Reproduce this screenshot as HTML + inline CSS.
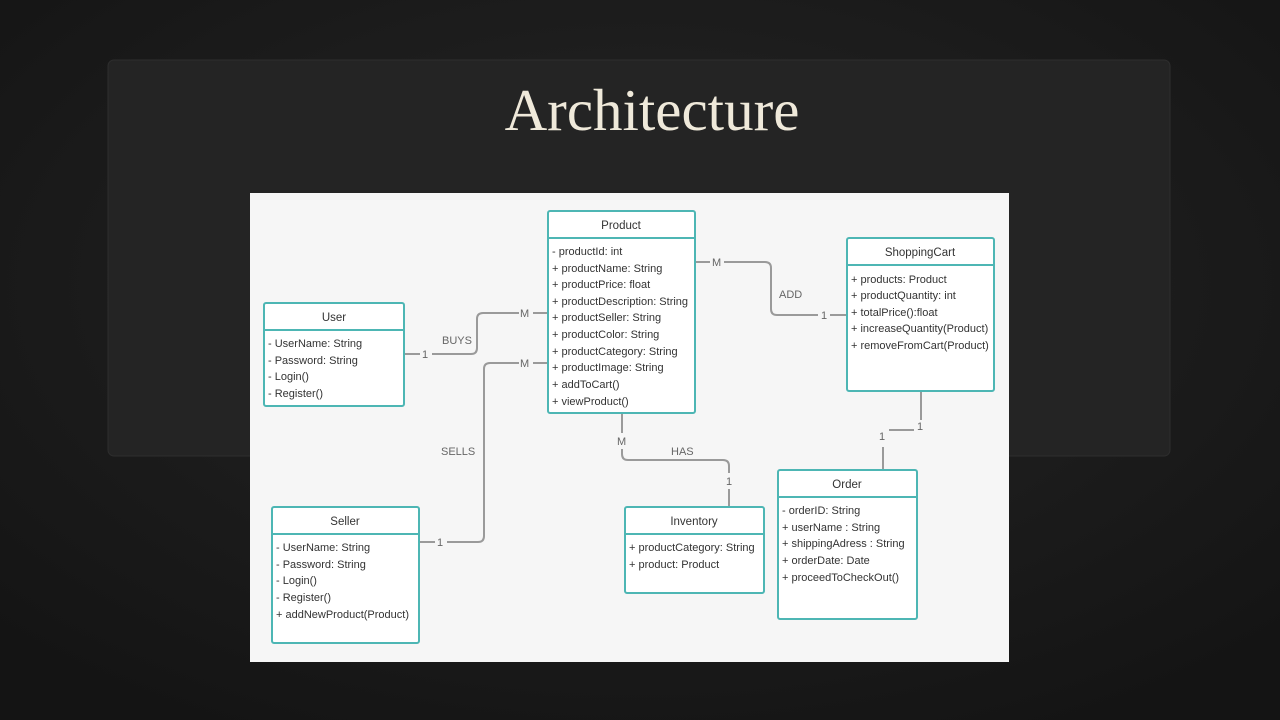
<!DOCTYPE html>
<html><head><meta charset="utf-8"><style>
html,body{margin:0;padding:0;width:1280px;height:720px;overflow:hidden;background:#1b1b1b}
svg{display:block}
.t{font-family:"Liberation Sans",sans-serif;font-size:11px;fill:#333}
.l{font-family:"Liberation Sans",sans-serif;font-size:11px;fill:#666}
.h{font-family:"Liberation Sans",sans-serif;font-size:11.5px;fill:#333;text-anchor:middle}
.b{fill:#fff;stroke:#4db6b4;stroke-width:2}
.c{fill:none;stroke:#9a9a9a;stroke-width:2}
</style></head><body>
<svg width="1280" height="720" viewBox="0 0 1280 720">
<defs><radialGradient id="bg" cx="50%" cy="40%" r="70%"><stop offset="0" stop-color="#262626"/><stop offset="1" stop-color="#141414"/></radialGradient></defs>
<rect width="1280" height="720" fill="url(#bg)"/>
<rect x="108" y="60" width="1062" height="396" rx="6" fill="#242424" stroke="#2e2e2e"/>
<text x="652" y="130" text-anchor="middle" font-family="Liberation Serif,serif" font-size="59" fill="#efe9da">Architecture</text>
<rect x="250" y="193" width="759" height="469" fill="#f6f6f6"/>

<!-- connectors -->
<path class="c" d="M404 354H420M432 354H471Q477 354 477 348V319Q477 313 483 313H519M533 313H548"/>
<path class="c" d="M419 542H435M447 542H478Q484 542 484 536V369Q484 363 490 363H519M533 363H548"/>
<path class="c" d="M695 262H710M724 262H765Q771 262 771 268V309Q771 315 777 315H818M830 315H847"/>
<path class="c" d="M622 413V433M622 449V454Q622 460 628 460H723Q729 460 729 466V473M729 489V507"/>
<path class="c" d="M921 391V420M914 430H889M883 447V470"/>
<text class="l" x="442" y="344">BUYS</text>
<text class="l" x="422" y="358">1</text>
<text class="l" x="520" y="317">M</text>
<text class="l" x="520" y="367">M</text>
<text class="l" x="441" y="455">SELLS</text>
<text class="l" x="437" y="546">1</text>
<text class="l" x="712" y="266">M</text>
<text class="l" x="779" y="298">ADD</text>
<text class="l" x="821" y="319">1</text>
<text class="l" x="617" y="445">M</text>
<text class="l" x="671" y="455">HAS</text>
<text class="l" x="726" y="485">1</text>
<text class="l" x="917" y="430">1</text>
<text class="l" x="879" y="440">1</text>

<!-- Product -->
<rect class="b" x="548" y="211" width="147" height="202" rx="2"/>
<line x1="548" y1="238" x2="695" y2="238" stroke="#4db6b4" stroke-width="2"/>
<text class="h" x="621" y="229">Product</text>
<text class="t" x="552" y="255">- productId: int</text>
<text class="t" x="552" y="272">+ productName: String</text>
<text class="t" x="552" y="288">+ productPrice: float</text>
<text class="t" x="552" y="305">+ productDescription: String</text>
<text class="t" x="552" y="321">+ productSeller: String</text>
<text class="t" x="552" y="338">+ productColor: String</text>
<text class="t" x="552" y="355">+ productCategory: String</text>
<text class="t" x="552" y="371">+ productImage: String</text>
<text class="t" x="552" y="388">+ addToCart()</text>
<text class="t" x="552" y="405">+ viewProduct()</text>

<!-- User -->
<rect class="b" x="264" y="303" width="140" height="103" rx="2"/>
<line x1="264" y1="330" x2="404" y2="330" stroke="#4db6b4" stroke-width="2"/>
<text class="h" x="334" y="321">User</text>
<text class="t" x="268" y="347">-  UserName: String</text>
<text class="t" x="268" y="364">-  Password: String</text>
<text class="t" x="268" y="380">-  Login()</text>
<text class="t" x="268" y="397">-  Register()</text>

<!-- Seller -->
<rect class="b" x="272" y="507" width="147" height="136" rx="2"/>
<line x1="272" y1="534" x2="419" y2="534" stroke="#4db6b4" stroke-width="2"/>
<text class="h" x="345" y="525">Seller</text>
<text class="t" x="276" y="551">-  UserName: String</text>
<text class="t" x="276" y="568">-  Password: String</text>
<text class="t" x="276" y="584">-  Login()</text>
<text class="t" x="276" y="601">-  Register()</text>
<text class="t" x="276" y="618">+ addNewProduct(Product)</text>

<!-- ShoppingCart -->
<rect class="b" x="847" y="238" width="147" height="153" rx="2"/>
<line x1="847" y1="265" x2="994" y2="265" stroke="#4db6b4" stroke-width="2"/>
<text class="h" x="920" y="256">ShoppingCart</text>
<text class="t" x="851" y="283">+ products: Product</text>
<text class="t" x="851" y="299">+ productQuantity: int</text>
<text class="t" x="851" y="316">+ totalPrice():float</text>
<text class="t" x="851" y="332">+ increaseQuantity(Product)</text>
<text class="t" x="851" y="349">+ removeFromCart(Product)</text>

<!-- Inventory -->
<rect class="b" x="625" y="507" width="139" height="86" rx="2"/>
<line x1="625" y1="534" x2="764" y2="534" stroke="#4db6b4" stroke-width="2"/>
<text class="h" x="694" y="525">Inventory</text>
<text class="t" x="629" y="551">+ productCategory: String</text>
<text class="t" x="629" y="568">+ product: Product</text>

<!-- Order -->
<rect class="b" x="778" y="470" width="139" height="149" rx="2"/>
<line x1="778" y1="497" x2="917" y2="497" stroke="#4db6b4" stroke-width="2"/>
<text class="h" x="847" y="488">Order</text>
<text class="t" x="782" y="514">- orderID: String</text>
<text class="t" x="782" y="531">+ userName : String</text>
<text class="t" x="782" y="547">+ shippingAdress : String</text>
<text class="t" x="782" y="564">+ orderDate: Date</text>
<text class="t" x="782" y="581">+ proceedToCheckOut()</text>
</svg>
</body></html>
